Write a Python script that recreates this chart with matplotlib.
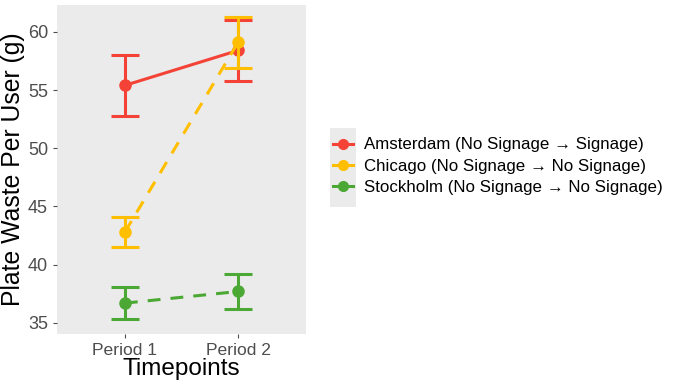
import numpy as np
import matplotlib.pyplot as plt
from matplotlib.lines import Line2D
from matplotlib.patches import Rectangle

plt.rcParams["font.family"] = ["Liberation Sans", "DejaVu Sans"]

periods = ["Period 1", "Period 2"]
sites = [
    "Amsterdam (No Signage \u2192 Signage)",
    "Chicago (No Signage \u2192 No Signage)",
    "Stockholm (No Signage \u2192 No Signage)",
]
colors = ["#F44336", "#FFBF00", "#4CA834"]
styles = ["-", "--", "--"]
means = [[55.4, 58.4], [42.8, 59.1], [36.7, 37.7]]
lower = [[52.8, 55.8], [41.5, 56.9], [35.3, 36.2]]
upper = [[58.0, 61.0], [44.1, 61.3], [38.1, 39.2]]

fig = plt.figure(figsize=(6.85, 3.87), dpi=100)
ax = fig.add_axes([0.0832, 0.137, 0.3635, 0.850])
ax.set_facecolor("#EBEBEB")

x = np.arange(len(periods))
handles = []
for i, name in enumerate(sites):
    m = np.array(means[i])
    err = [m - np.array(lower[i]), np.array(upper[i]) - m]
    ax.errorbar(x, m, yerr=err, fmt="none", ecolor=colors[i], elinewidth=2.2,
                capsize=10.4, capthick=2.2, zorder=2 + i)
    ln, = ax.plot(x, m, color=colors[i], lw=2.2, linestyle=styles[i],
                  marker="o", ms=8, zorder=2 + i)
    if styles[i] == "--":
        ln.set_dashes((4.2, 3.3))
    handles.append(Line2D([], [], color=colors[i], lw=2.2, marker="o", ms=7))

ax.set_xlim(-0.6, 1.6)
ax.set_ylim(34.05, 62.3)
ax.set_xticks(x)
ax.set_xticklabels(periods)
ax.set_yticks([35, 40, 45, 50, 55, 60])
for s in ax.spines.values():
    s.set_visible(False)
ax.tick_params(colors="#4D4D4D", labelsize=13, length=3, width=0.8)
ax.tick_params(axis="x", labelsize=12.6)
ax.set_xlabel("Timepoints", fontsize=17.5, labelpad=0)
ax.set_ylabel("Plate Waste Per User (g)", fontsize=17.8, labelpad=2)

fig.patches.append(Rectangle((330 / 685, 1 - 207 / 387), 26 / 685, 79 / 387,
                             transform=fig.transFigure, facecolor="#EBEBEB",
                             edgecolor="none", zorder=0))
fig.legend(handles, sites, loc="center left", bbox_to_anchor=(0.486, 0.57),
           frameon=False, fontsize=12.2, handlelength=1.2, handletextpad=0.65,
           labelspacing=0.38, borderaxespad=0, borderpad=0)

fig.savefig("out.png", dpi=100)
